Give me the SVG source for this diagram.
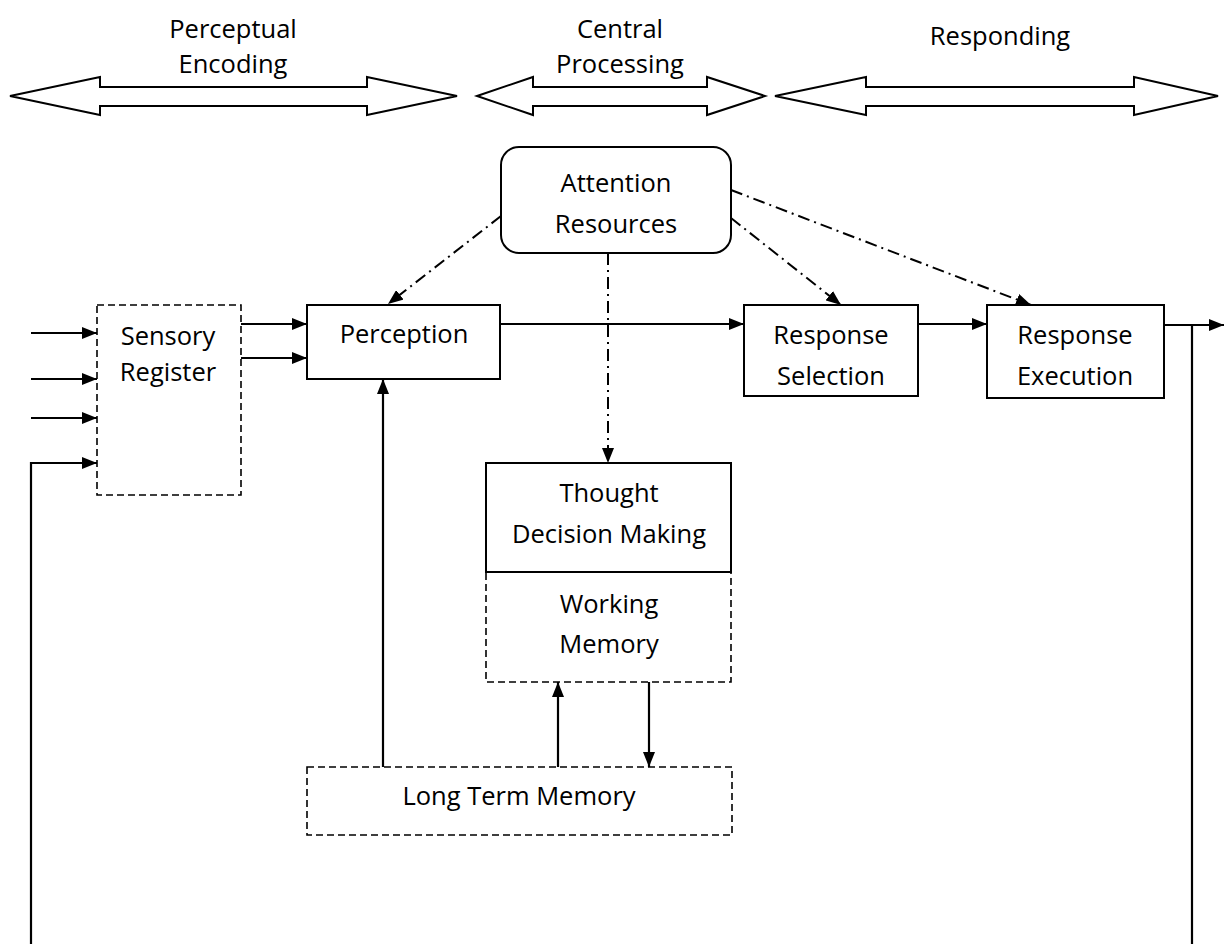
<svg xmlns="http://www.w3.org/2000/svg" width="1224" height="944" viewBox="0 0 1224 944">
  <style>
    text { font-family: "Open Sans", "Liberation Sans", sans-serif; font-size: 25.5px; fill: #000; text-anchor: middle; }
    .box { fill: #fff; stroke: #000; stroke-width: 2; }
    .dash { fill: none; stroke: #000; stroke-width: 1.6; stroke-dasharray: 7 4; }
    .band { fill: #fff; stroke: #000; stroke-width: 2; stroke-linejoin: miter; }
    .line { fill: none; stroke: #000; stroke-width: 2.2; }
    .arrow { fill: none; stroke: #000; stroke-width: 2.2; marker-end: url(#head); }
    .ctrl { fill: none; stroke: #000; stroke-width: 2; stroke-dasharray: 12 5 2 5; marker-end: url(#head); }
  </style>
  <defs>
    <marker id="head" viewBox="0 0 15 12" refX="15" refY="6" markerWidth="15" markerHeight="12" markerUnits="userSpaceOnUse" orient="auto">
      <path d="M0,0 L15,6 L0,12 Z" fill="#000"/>
    </marker>
  </defs>

  <!-- stage bands -->
  <g id="stage-perceptual">
    <polygon class="band" points="10,96 100,77 100,87 367,87 367,77 457,96 367,115 367,106 100,106 100,115"/>
    <text x="233" y="38">Perceptual</text>
    <text x="233" y="73">Encoding</text>
  </g>
  <g id="stage-central">
    <polygon class="band" points="477,96 533,77 533,87 707,87 707,77 765,96 707,115 707,106 533,106 533,115"/>
    <text x="620" y="38">Central</text>
    <text x="620" y="73">Processing</text>
  </g>
  <g id="stage-responding">
    <polygon class="band" points="775,96 866,77 866,87 1134,87 1134,77 1218,96 1134,115 1134,106 866,106 866,115"/>
    <text x="1000" y="45">Responding</text>
  </g>

  <!-- nodes -->
  <g id="attention">
    <rect class="box" x="501" y="147" width="230" height="106" rx="18"/>
    <text x="616" y="192">Attention</text>
    <text x="616" y="233">Resources</text>
  </g>
  <g id="sensory-register">
    <rect class="dash" x="97" y="305" width="144" height="190"/>
    <text x="168" y="345">Sensory</text>
    <text x="168" y="381">Register</text>
  </g>
  <g id="perception">
    <rect class="box" x="307" y="305" width="193" height="74"/>
    <text x="404" y="343">Perception</text>
  </g>
  <g id="response-selection">
    <rect class="box" x="744" y="305" width="174" height="91"/>
    <text x="831" y="344">Response</text>
    <text x="831" y="385">Selection</text>
  </g>
  <g id="response-execution">
    <rect class="box" x="987" y="305" width="177" height="93"/>
    <text x="1075" y="344">Response</text>
    <text x="1075" y="385">Execution</text>
  </g>
  <g id="thought">
    <rect class="box" x="486" y="463" width="245" height="109"/>
    <text x="609" y="502">Thought</text>
    <text x="609" y="543">Decision Making</text>
  </g>
  <g id="working-memory">
    <path class="dash" d="M486,573 V682 H731 V573"/>
    <text x="609" y="613">Working</text>
    <text x="609" y="653">Memory</text>
  </g>
  <g id="long-term-memory">
    <rect class="dash" x="307" y="767" width="425" height="68"/>
    <text x="519" y="805">Long Term Memory</text>
  </g>

  <!-- connectors -->
  <g id="connectors">
    <!-- sensory inputs -->
    <line class="arrow" x1="31" y1="333" x2="97" y2="333"/>
    <line class="arrow" x1="31" y1="379" x2="97" y2="379"/>
    <line class="arrow" x1="31" y1="418" x2="97" y2="418"/>
    <path class="arrow" d="M31,944 V463 H97"/>
    <!-- sensory register to perception -->
    <line class="arrow" x1="241" y1="324" x2="307" y2="324"/>
    <line class="arrow" x1="241" y1="358" x2="307" y2="358"/>
    <!-- main flow -->
    <line class="arrow" x1="500" y1="324" x2="744" y2="324"/>
    <line class="arrow" x1="918" y1="324" x2="987" y2="324"/>
    <line class="arrow" x1="1164" y1="325" x2="1224" y2="325"/>
    <line class="line" x1="1192" y1="325" x2="1192" y2="944"/>
    <!-- memory links -->
    <line class="arrow" x1="383" y1="767" x2="383" y2="379"/>
    <line class="arrow" x1="558" y1="767" x2="558" y2="682"/>
    <line class="arrow" x1="649" y1="682" x2="649" y2="767"/>
    <!-- attention allocation -->
    <line class="ctrl" x1="501" y1="216" x2="388" y2="304"/>
    <line class="ctrl" x1="608" y1="253" x2="608" y2="463"/>
    <line class="ctrl" x1="731" y1="218" x2="841" y2="305"/>
    <line class="ctrl" x1="731" y1="190" x2="1031" y2="305"/>
  </g>
</svg>
